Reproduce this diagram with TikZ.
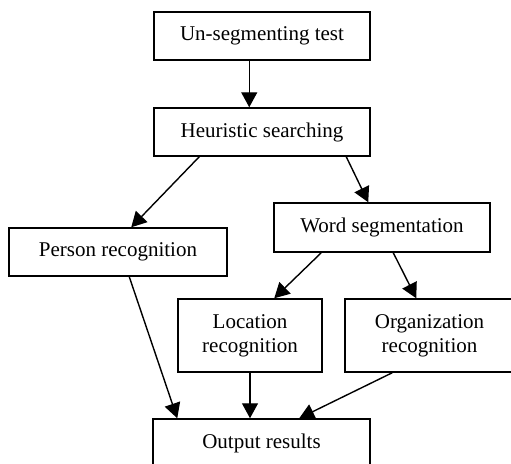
\documentclass[tikz,border=0pt]{standalone}
\usepackage{fontspec}
\setmainfont{Liberation Serif}
\usetikzlibrary{arrows.meta}
\begin{document}
\begin{tikzpicture}[x=1pt,y=-1pt,
  box/.style={draw=black,line width=1.5pt,fill=white,inner sep=0pt,
    font=\fontsize{21}{24}\selectfont,align=center},
  flow/.style={line width=1.4pt,-{Triangle[length=15pt,width=16pt]}}]
\useasboundingbox (0,0) rectangle (511,463);
\clip (0,0) rectangle (511,463);

% process boxes
\node[box,minimum width=216pt,minimum height=48pt] (u) at (262,36) {Un-segmenting test};
\node[box,minimum width=216pt,minimum height=48pt] (h) at (262,132) {Heuristic searching};
\node[box,minimum width=218pt,minimum height=48pt] (p) at (118,252) {Person recognition};
\node[box,minimum width=216pt,minimum height=49pt] (w) at (382,227.5) {Word segmentation};
\node[box,minimum width=144pt,minimum height=73pt] (l) at (250,335.5) {Location\\recognition};
\node[box,minimum width=169pt,minimum height=73pt] (o) at (429.5,335.5) {Organization\\recognition};
\node[box,minimum width=217pt,minimum height=48pt] (r) at (261.5,443) {Output results};

% connectors
\draw[flow] ([xshift=96pt]u.south west) -- ([xshift=96pt]h.north west);
\draw[flow] ([xshift=46pt]h.south west) -- ([xshift=123pt]p.north west);
\draw[flow] ([xshift=193pt]h.south west) -- ([xshift=95pt]w.north west);
\draw[flow] ([xshift=48pt]w.south west) -- ([xshift=97pt]l.north west);
\draw[flow] ([xshift=120pt]w.south west) -- ([xshift=72pt]o.north west);
\draw[flow] ([xshift=121pt]p.south west) -- ([xshift=25pt]r.north west);
\draw[flow] (l.south) -- (l.south |- r.north);
\draw[flow] ([xshift=48pt]o.south west) -- ([xshift=147pt]r.north west);
\end{tikzpicture}
\end{document}
